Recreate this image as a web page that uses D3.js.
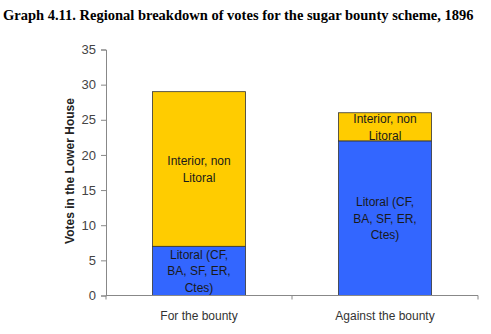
<!DOCTYPE html>
<html><head><meta charset="utf-8">
<script src="https://cdn.jsdelivr.net/npm/d3@7"></script>
<style>body{margin:0;background:#fff;}svg{display:block;}</style>
</head><body>
<script>
const categories = ["For the bounty", "Against the bounty"];
const seriesNames = ["Litoral (CF, BA, SF, ER, Ctes)", "Interior, non Litoral"];
const seriesLines = [["Litoral (CF,", "BA, SF, ER,", "Ctes)"], ["Interior, non", "Litoral"]];
const litoral = [7, 22];
const interior = [22, 4];
const yTicks = [0, 5, 10, 15, 20, 25, 30, 35];
const colors = ["#3366FF", "#FFCC00"];

const W = 491, H = 334;
const svg = d3.select("body").append("svg").attr("width", W).attr("height", H);

svg.append("text").attr("x", 3).attr("y", 19.5)
  .attr("font-family", "Liberation Serif, Times New Roman, serif")
  .attr("font-weight", "bold").attr("font-size", 14.5).attr("fill", "#000")
  .text("Graph 4.11. Regional breakdown of votes for the sugar bounty scheme, 1896");

const x = d3.scaleBand().domain(categories).range([106, 478]).paddingInner(0.5).paddingOuter(0.25);
const y = d3.scaleLinear().domain([0, 35]).range([295.5, 49.5]);

const rows = categories.map((c, i) => ({c, vals: [litoral[i], interior[i]]}));
const stack = d3.stack().keys([0, 1]).value((d, k) => d.vals[k]);
const stacked = stack(rows);

const g = svg.append("g");
stacked.forEach((layer, k) => {
  layer.forEach((d, i) => {
    g.append("rect")
      .attr("x", x(rows[i].c)).attr("width", x.bandwidth())
      .attr("y", y(d[1])).attr("height", y(d[0]) - y(d[1]))
      .attr("fill", colors[k]).attr("stroke", "#333").attr("stroke-width", 0.8);
    const cy = (y(d[0]) + y(d[1])) / 2;
    const lines = seriesLines[k];
    const lh = 16.5;
    const t = g.append("text").attr("text-anchor", "middle")
      .attr("font-family", "Liberation Sans, Arial, sans-serif").attr("font-size", 12).attr("fill", "#1a1a1a");
    lines.forEach((ln, j) => {
      t.append("tspan").attr("x", x(rows[i].c) + x.bandwidth() / 2)
        .attr("y", cy + (j - (lines.length - 1) / 2) * lh + 4.5).text(ln);
    });
  });
});

// y axis
const yAxis = d3.axisLeft(y).tickValues(yTicks).tickSize(5).tickPadding(5);
const ya = svg.append("g").attr("transform", "translate(106,0)").call(yAxis);
ya.select(".domain").attr("stroke", "#888");
ya.selectAll(".tick line").attr("stroke", "#888");
ya.selectAll(".tick text").attr("font-family", "Liberation Sans, Arial, sans-serif").attr("font-size", 13).attr("fill", "#444");

// x axis
const xa = svg.append("g").attr("transform", "translate(0,295.5)");
xa.append("line").attr("x1", 106).attr("x2", 478).attr("stroke", "#888");
[106, 292, 478].forEach(px => xa.append("line").attr("x1", px).attr("x2", px).attr("y1", 0).attr("y2", 4).attr("stroke", "#888"));
categories.forEach(c => {
  xa.append("text").attr("x", x(c) + x.bandwidth() / 2).attr("y", 24).attr("text-anchor", "middle")
    .attr("font-family", "Liberation Sans, Arial, sans-serif").attr("font-size", 12).attr("fill", "#333").text(c);
});

svg.append("text").attr("transform", "translate(73.5,171) rotate(-90)").attr("text-anchor", "middle")
  .attr("font-family", "Liberation Sans, Arial, sans-serif").attr("font-weight", "bold").attr("font-size", 12).attr("fill", "#222")
  .text("Votes in the Lower House");
</script>
</body></html>
